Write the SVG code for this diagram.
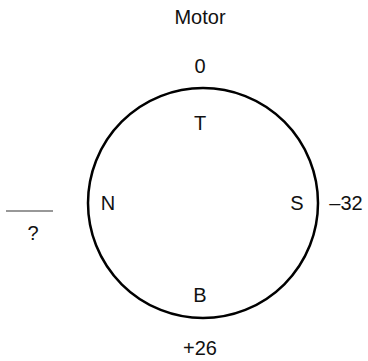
<svg xmlns="http://www.w3.org/2000/svg" width="368" height="361" viewBox="0 0 368 361">
<style>
text{font-family:"Liberation Sans",Arial,sans-serif;font-size:20px;fill:#111;text-anchor:middle}
.ring{fill:none;stroke:#000;stroke-width:2.5}
</style>
<rect width="368" height="361" fill="#fff"/>
<g id="title"><text x="200" y="24">Motor</text></g>
<g id="motor">
<circle class="ring" cx="203" cy="203" r="115"/>
<text x="200" y="130">T</text>
<text x="108" y="210">N</text>
<text x="297" y="210">S</text>
<text x="200" y="302">B</text>
</g>
<g id="labels">
<text x="200" y="73">0</text>
<text x="346" y="210">–32</text>
<text x="200" y="355">+26</text>
</g>
<g id="blank">
<line x1="6" y1="211" x2="53" y2="211" stroke="#333" stroke-width="1.2"/>
<text x="33" y="240">?</text>
</g>
</svg>
